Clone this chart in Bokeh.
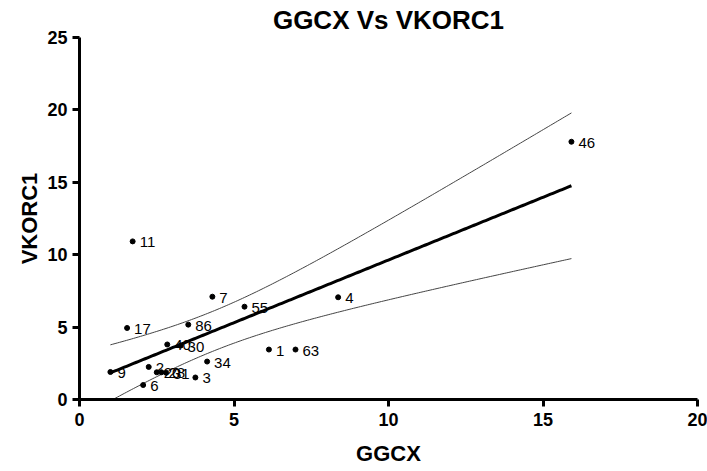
import numpy as np
from bokeh.plotting import figure
from bokeh.models import ColumnDataSource, Range1d, FixedTicker
from bokeh.core.properties import value
from bokeh.embed import file_html
from bokeh.resources import INLINE

# Data (GGCX vs VKORC1)
labels = ["46", "11", "7", "55", "4", "17", "86", "40", "30", "1", "63",
          "34", "9", "2", "20", "28", "31", "3", "6"]
ggcx = [15.92, 1.72, 4.30, 5.34, 8.37, 1.54, 3.52, 2.84, 3.27, 6.13, 6.99,
        4.13, 1.00, 2.24, 2.50, 2.65, 2.80, 3.75, 2.06]
vkorc1 = [17.80, 10.92, 7.10, 6.41, 7.06, 4.94, 5.17, 3.80, 3.72, 3.45, 3.45,
          2.62, 1.90, 2.25, 1.88, 1.88, 1.85, 1.52, 1.00]
x_ticks = [0, 5, 10, 15, 20]
y_ticks = [0, 5, 10, 15, 20, 25]

# Linear regression with 95% confidence band of the mean
x = np.array(ggcx)
y = np.array(vkorc1)
n = len(x)
xm, ym = x.mean(), y.mean()
sxx = ((x - xm) ** 2).sum()
sxy = ((x - xm) * (y - ym)).sum()
slope = sxy / sxx
intercept = ym - slope * xm
resid = y - (intercept + slope * x)
s = np.sqrt((resid ** 2).sum() / (n - 2))
t_crit = 2.110  # t(0.975, df=17)
xs = np.linspace(x.min(), x.max(), 200)
fit = intercept + slope * xs
half = t_crit * s * np.sqrt(1.0 / n + (xs - xm) ** 2 / sxx)

FONT = "Liberation Sans"

p = figure(width=707, height=471, output_backend="svg", toolbar_location=None,
           x_range=Range1d(0, 20), y_range=Range1d(0, 25),
           min_border_left=79, min_border_right=10, min_border_top=37,
           min_border_bottom=72, title="GGCX Vs VKORC1")
p.outline_line_color = None
p.grid.visible = False
p.background_fill_color = "white"

p.title.text_font = FONT
p.title.text_font_size = "26px"
p.title.text_font_style = "bold"
p.title.align = "center"
p.title.text_color = "black"
p.title.standoff = 5
p.title.offset = 0

for ax in (p.xaxis[0], p.yaxis[0]):
    ax.axis_line_width = 3
    ax.axis_line_color = "black"
    ax.major_tick_line_width = 3
    ax.major_tick_line_color = "black"
    ax.major_tick_out = 7
    ax.major_tick_in = 0
    ax.minor_tick_line_color = None
    ax.major_label_text_font = FONT
    ax.major_label_text_font_size = "18px"
    ax.major_label_text_font_style = "bold"
    ax.major_label_text_color = "black"
    ax.axis_label_text_font = FONT
    ax.axis_label_text_font_size = "22px"
    ax.axis_label_text_font_style = "bold"
    ax.axis_label_text_color = "black"

p.xaxis[0].ticker = FixedTicker(ticks=x_ticks)
p.yaxis[0].ticker = FixedTicker(ticks=y_ticks)
p.xaxis[0].axis_label = "GGCX"
p.yaxis[0].axis_label = "VKORC1"
p.xaxis[0].major_label_standoff = 6
p.yaxis[0].major_label_standoff = 5
p.xaxis[0].axis_label_standoff = 12
p.yaxis[0].axis_label_standoff = 2

p.line(xs, fit + half, line_color="#444444", line_width=1)
p.line(xs, fit - half, line_color="#444444", line_width=1)
p.line(xs, fit, line_color="black", line_width=3)

src = ColumnDataSource(dict(x=ggcx, y=vkorc1, label=labels))
p.scatter("x", "y", source=src, size=5, color="black")
p.text("x", "y", text="label", source=src, x_offset=7, y_offset=1,
       text_baseline="middle", text_align="left",
       text_font=value(FONT), text_font_size="15px", text_color="black")

open("out.html", "w").write(file_html(p, INLINE))
